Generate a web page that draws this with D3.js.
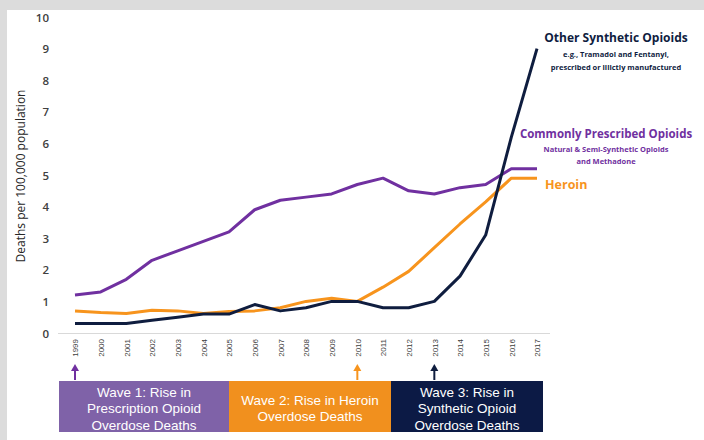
<!DOCTYPE html>
<html><head><meta charset="utf-8">
<script src="https://cdn.jsdelivr.net/npm/d3@7"></script>
<style>
html,body{margin:0;padding:0;background:#dcdcdc;}
svg{display:block;}
</style></head>
<body>
<svg id="c" width="704" height="440"></svg>
<script>
const years = [1999,2000,2001,2002,2003,2004,2005,2006,2007,2008,2009,2010,2011,2012,2013,2014,2015,2016,2017];
const synthetic = [0.3,0.3,0.3,0.4,0.5,0.6,0.6,0.9,0.7,0.8,1.0,1.0,0.8,0.8,1.0,1.8,3.1,6.2,9.0];
const heroin = [0.7,0.65,0.62,0.72,0.7,0.62,0.68,0.7,0.8,1.0,1.1,1.0,1.45,1.95,2.7,3.45,4.15,4.9,4.9];
const prescribed = [1.2,1.3,1.7,2.3,2.6,2.9,3.2,3.9,4.2,4.3,4.4,4.7,4.9,4.5,4.4,4.6,4.7,5.2,5.2];
const yTicks = [0,1,2,3,4,5,6,7,8,9,10];
const waveYears = [1999,2010,2013];
const waveLabels = [
  ["Wave 1: Rise in","Prescription Opioid","Overdose Deaths"],
  ["Wave 2: Rise in Heroin","Overdose Deaths"],
  ["Wave 3: Rise in","Synthetic Opioid","Overdose Deaths"]
];

const C_PURPLE = "#7030a0", C_ORANGE = "#f7941d", C_NAVY = "#0f1d3f";
const boxColors = ["#7f62a8","#f1901e","#0c1a45"];

const svg = d3.select("#c");
svg.append("rect").attr("x",7).attr("y",10).attr("width",697).attr("height",430).attr("fill","#ffffff");

const x = d3.scaleLinear().domain([1999,2017]).range([75,537]);
const y = d3.scaleLinear().domain([0,10]).range([333,17]);

// baseline
svg.append("line").attr("x1",58).attr("x2",550).attr("y1",y(0)+0.5).attr("y2",y(0)+0.5)
  .attr("stroke","#d9d9d9").attr("stroke-width",1);

// y axis
const yAxis = d3.axisLeft(y).tickValues(yTicks).tickSize(0).tickPadding(0).tickFormat(d3.format("d"));
const gy = svg.append("g").attr("transform","translate(49,0)").call(yAxis);
gy.select(".domain").remove();
gy.selectAll("text").attr("font-family","'Open Sans',sans-serif").attr("font-size",11.5).attr("font-weight",600).attr("fill","#404040").attr("dy","0.35em");

svg.append("text").attr("transform","translate(25,176) rotate(-90)")
  .attr("text-anchor","middle").attr("font-family","'Open Sans',sans-serif").attr("font-size",12)
  .attr("fill","#262626").text("Deaths per 100,000 population");

// x axis
const xAxis = d3.axisBottom(x).tickValues(years).tickSize(0).tickFormat(d3.format("d"));
const gx = svg.append("g").attr("transform","translate(0,"+(y(0)+4)+")").call(xAxis);
gx.select(".domain").remove();
gx.selectAll("text").attr("font-family","'Liberation Sans',Arial,sans-serif").attr("font-size",8)
  .attr("fill","#404040").attr("text-anchor","end").attr("transform","rotate(-90)")
  .attr("x",-2).attr("y",0).attr("dy","0.35em");

// lines
const line = d3.line().x((d,i)=>x(years[i])).y(d=>y(d));
[[heroin,C_ORANGE],[prescribed,C_PURPLE],[synthetic,C_NAVY]].forEach(([s,c])=>{
  svg.append("path").datum(s).attr("d",line).attr("fill","none").attr("stroke",c)
    .attr("stroke-width",3).attr("stroke-linejoin","round");
});

// right labels
const lab = svg.append("g").attr("font-family","'Open Sans',sans-serif").attr("font-weight","bold").attr("text-anchor","middle");
lab.append("text").attr("x",616).attr("y",42).attr("font-size",12).attr("fill",C_NAVY).text("Other Synthetic Opioids");
lab.append("text").attr("x",616).attr("y",57).attr("font-size",7.5).attr("fill",C_NAVY).text("e.g., Tramadol and Fentanyl,");
lab.append("text").attr("x",616).attr("y",70).attr("font-size",7.5).attr("fill",C_NAVY).text("prescribed or illictly manufactured");
lab.append("text").attr("x",606).attr("y",138).attr("font-size",11.5).attr("fill",C_PURPLE).text("Commonly Prescribed Opioids");
lab.append("text").attr("x",606).attr("y",152).attr("font-size",7.5).attr("fill",C_PURPLE).text("Natural & Semi-Synthetic Opioids");
lab.append("text").attr("x",606).attr("y",164).attr("font-size",7.5).attr("fill",C_PURPLE).text("and Methadone");
lab.append("text").attr("x",545).attr("y",189).attr("font-size",12.5).attr("fill",C_ORANGE).attr("text-anchor","start").text("Heroin");

// arrows
const arrowC = [C_PURPLE, C_ORANGE, C_NAVY];
waveYears.forEach((yr,i)=>{
  const cx = x(yr);
  svg.append("line").attr("x1",cx).attr("x2",cx).attr("y1",370).attr("y2",380).attr("stroke",arrowC[i]).attr("stroke-width",2);
  svg.append("path").attr("d",`M${cx-4},371 L${cx},364 L${cx+4},371 Z`).attr("fill",arrowC[i]);
});

// wave boxes
const bx = [59,229,391,543];
waveLabels.forEach((lines,i)=>{
  svg.append("rect").attr("x",bx[i]).attr("y",381).attr("width",bx[i+1]-bx[i]).attr("height",51).attr("fill",boxColors[i]);
  const cx = (bx[i]+bx[i+1])/2;
  const n = lines.length;
  const lh = 16.5;
  const start = 408.5 - (n-1)*lh/2;
  lines.forEach((t,j)=>{
    svg.append("text").attr("x",cx).attr("y",start+j*lh).attr("dy","0.35em").attr("text-anchor","middle")
      .attr("font-family","'Liberation Sans',Arial,sans-serif").attr("font-size",13.5).attr("fill","#ffffff").text(t);
  });
});
</script>
</body></html>
